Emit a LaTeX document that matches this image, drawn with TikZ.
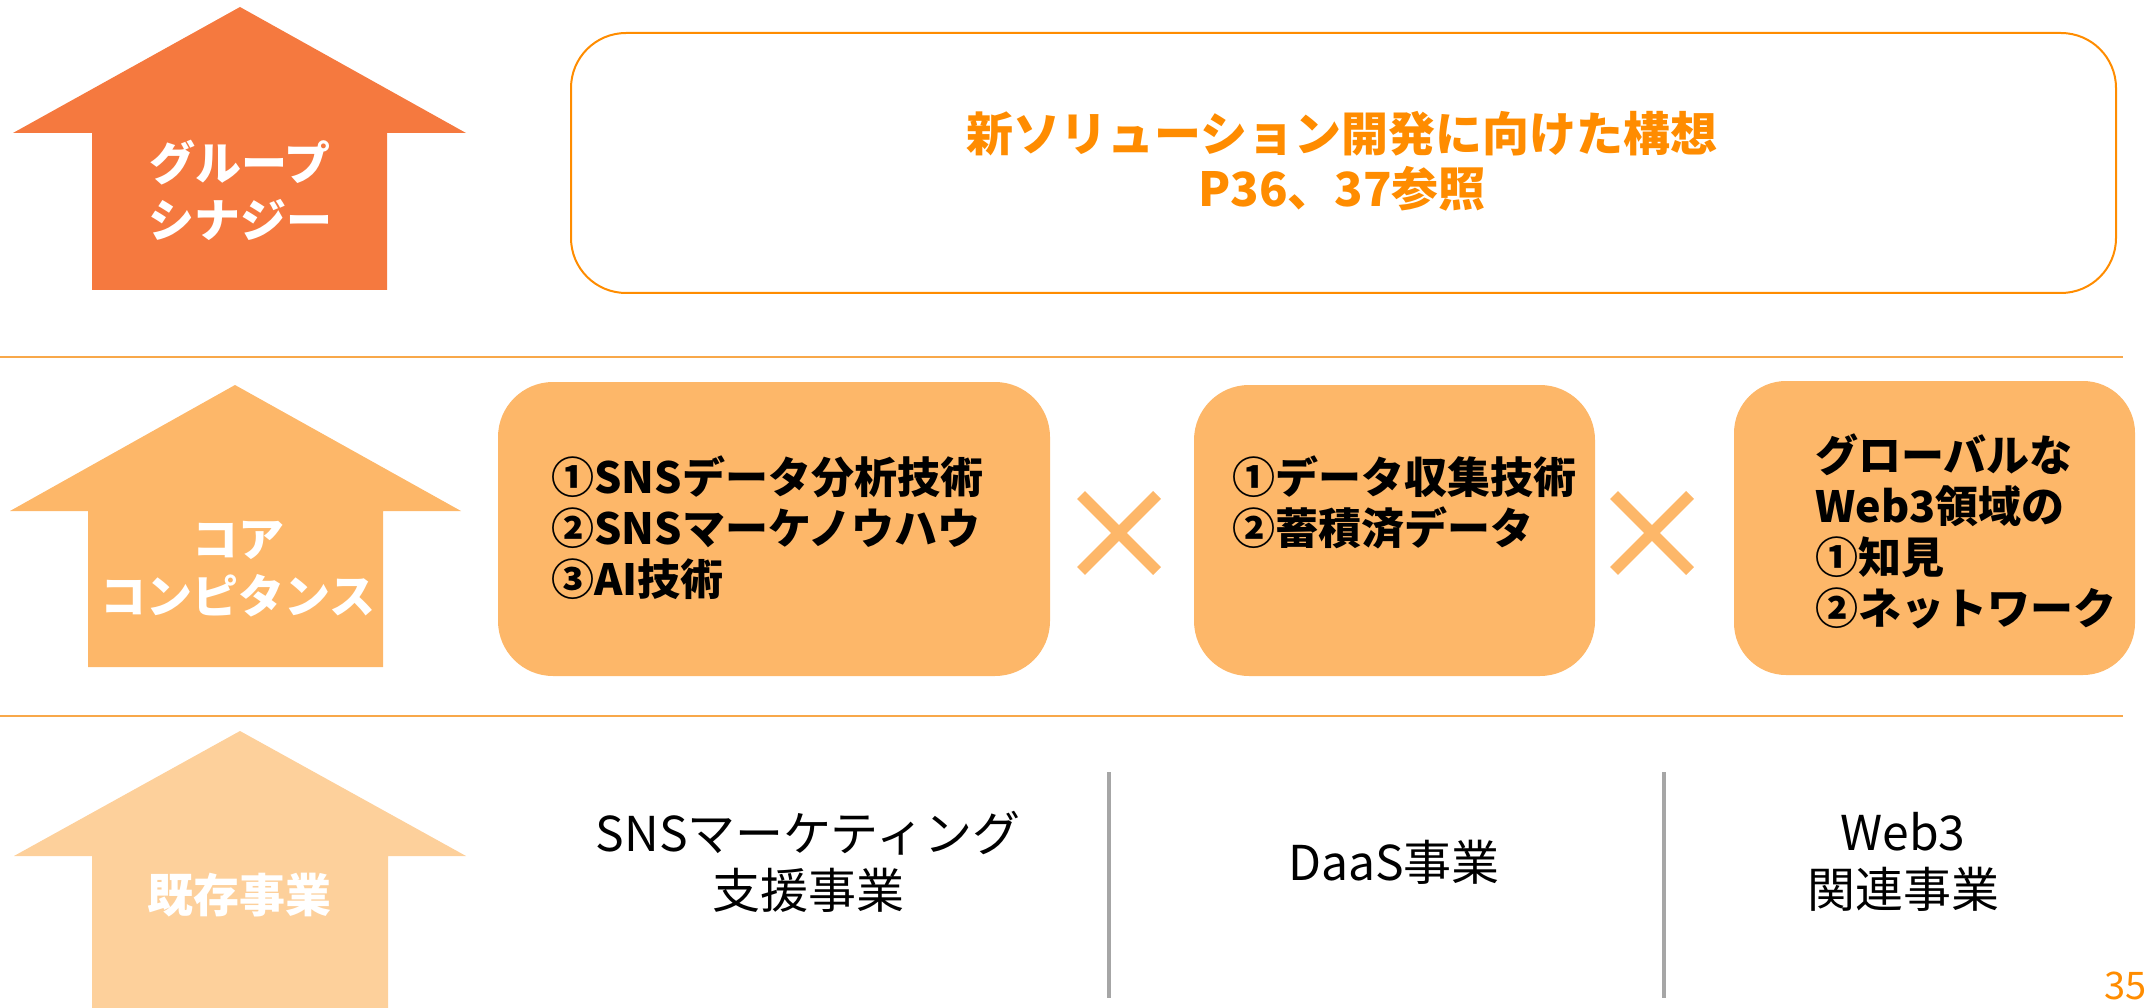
\documentclass[tikz,border=0pt]{standalone}
\usepackage{fontspec}
\newfontfamily\jp{Noto Sans CJK JP}
\definecolor{arrowA}{HTML}{F5793F}
\definecolor{arrowB}{HTML}{FDB769}
\definecolor{arrowC}{HTML}{FDD09B}
\definecolor{topOr}{HTML}{FF8C00}
\definecolor{rule}{HTML}{F8A84A}
\definecolor{vgray}{HTML}{A6A6A6}
\begin{document}
\begin{tikzpicture}[x=1pt,y=-1pt,
  arrowtxt/.style={text=white,align=center,inner sep=0pt,font=\jp\bfseries\fontsize{46}{57}\selectfont},
  corebox/.style={fill=arrowB,draw=none,rounded corners=55pt,inner sep=0pt},
  boxtxt/.style={anchor=west,align=left,inner sep=0pt,text=black,font=\jp\bfseries\fontsize{43}{51}\selectfont},
  bizt/.style={align=center,inner sep=0pt,text=black,font=\jp\fontsize{48}{57}\selectfont},
  cross/.style={draw=arrowB,line width=11pt},
  hrule/.style={draw=rule,line width=2pt},
  vrule/.style={draw=vgray,line width=4pt}
]
\useasboundingbox (0,0) rectangle (2147,1008);
% arrows
\fill[arrowA] (240,7) -- (466,133) -- (387,133) -- (387,290) -- (92,290) -- (92,133) -- (13,133) -- cycle;
\fill[arrowB] (235,385) -- (461,511) -- (383,511) -- (383,667) -- (88,667) -- (88,511) -- (10,511) -- cycle;
\fill[arrowC] (240,731) -- (466,856) -- (388,856) -- (388,1010) -- (92,1010) -- (92,856) -- (14,856) -- cycle;
\node[arrowtxt] (a1) at (240,190) {グループ\\シナジー};
\node[arrowtxt] (a2) at (238,569) {コア\\コンピタンス};
\node[arrowtxt] (a3) at (239,895) {既存事業};
% top box
\node[draw=topOr,line width=2pt,rounded corners=55pt,minimum width=1545pt,minimum height=260pt,inner sep=0pt] (top) at (1343.5,163) {};
\node[align=center,inner sep=0pt,text=topOr,font=\jp\bfseries\fontsize{47}{55}\selectfont] (toptxt) at (1342,161) {新ソリューション開発に向けた構想\\P36、37参照};
% rules
\coordinate (r1a) at (0,357); \coordinate (r1b) at (2123,357);
\coordinate (r2a) at (0,716); \coordinate (r2b) at (2123,716);
\draw[hrule] (r1a) -- (r1b);
\draw[hrule] (r2a) -- (r2b);
% core boxes
\node[corebox,minimum width=552pt,minimum height=294pt] (bA) at (774,529) {};
\node[corebox,minimum width=401pt,minimum height=291pt] (bB) at (1394.5,530.5) {};
\node[corebox,rounded corners=52pt,minimum width=401pt,minimum height=294pt] (bC) at (1934.5,528) {};
\node[boxtxt] (tA) at (551,528) {①SNSデータ分析技術\\②SNSマーケノウハウ\\③AI技術};
\node[boxtxt] (tB) at (1232,502) {①データ収集技術\\②蓄積済データ};
\node[boxtxt] (tC) at (1815,531) {グローバルな\\Web3領域の\\①知見\\②ネットワーク};
% crosses
\coordinate (x1a) at (1081,495); \coordinate (x1b) at (1157,571);
\coordinate (x1c) at (1081,571); \coordinate (x1d) at (1157,495);
\draw[cross] (x1a) -- (x1b); \draw[cross] (x1c) -- (x1d);
\coordinate (x2a) at (1614,495); \coordinate (x2b) at (1690,571);
\coordinate (x2c) at (1614,571); \coordinate (x2d) at (1690,495);
\draw[cross] (x2a) -- (x2b); \draw[cross] (x2c) -- (x2d);
% vertical rules
\coordinate (v1a) at (1109,772); \coordinate (v1b) at (1109,998);
\coordinate (v2a) at (1664,772); \coordinate (v2b) at (1664,998);
\draw[vrule] (v1a) -- (v1b);
\draw[vrule] (v2a) -- (v2b);
% businesses
\node[bizt] (s1) at (808,862) {SNSマーケティング\\支援事業};
\node[bizt] (s2) at (1394,862) {DaaS事業};
\node[bizt] (s3) at (1903,862) {Web3\\関連事業};
% page number
\node[anchor=base east,inner sep=0pt,text=topOr,font=\jp\fontsize{38}{44}\selectfont] (pg) at (2147,999) {35};
\end{tikzpicture}
\end{document}
